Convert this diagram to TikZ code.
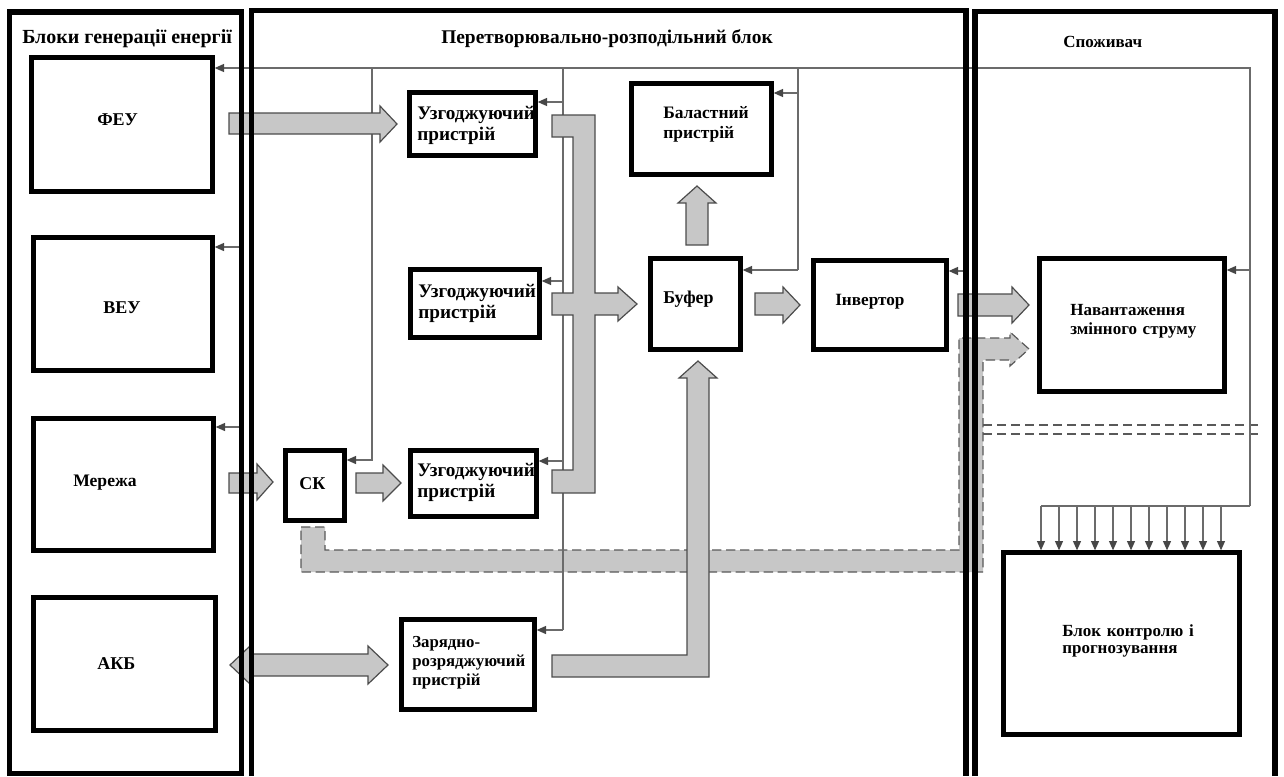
\documentclass[tikz,border=0pt]{standalone}
\usepackage{fontspec}
\setmainfont{Liberation Serif}
\usetikzlibrary{arrows.meta}
\newcommand\setfs[2]{\fontsize{#1}{#2}\selectfont}
\definecolor{wirec}{gray}{0.42}
\definecolor{tipc}{gray}{0.28}
\definecolor{flowfill}{gray}{0.78}
\definecolor{flowline}{gray}{0.3}
\definecolor{dashc}{gray}{0.35}
\begin{document}
\begin{tikzpicture}[x=0.75pt,y=-0.75pt,
  panel/.style={draw=black,line width=3.8pt},
  bx/.style 2 args={line width=4pt,inner sep=0pt,
    minimum width=#1*0.75pt,minimum height=#2*0.75pt},
  wire/.style={draw=wirec,line width=0.9pt},
  sig/.style={wire,-{Triangle[length=7pt,width=6pt,color=tipc]}},
  flow/.style={fill=flowfill,draw=flowline,line width=0.9pt,line join=miter},
  dflow/.style={fill=flowfill,draw=dashc,line width=0.9pt,dash pattern=on 7pt off 3.5pt},
  dline/.style={draw=dashc,line width=0.9pt,dash pattern=on 7pt off 3.5pt},
  lab/.style={inner sep=0pt,anchor=base west,font=\bfseries\setfs{13.5}{15}},
  mlab/.style={lab,align=left,text width=170pt},
]
\useasboundingbox (0,0) rectangle (1284,776);

% ---------- blocks (outlines are drawn later, above the flows) ----------
\node[bx={180}{133}] (feu) at (122,124.5) {};
\node[bx={178}{132}] (veu) at (123,304) {};
\node[bx={179}{131}] (grid) at (123.5,484.5) {};
\node[bx={181}{132}] (akb) at (124.5,664) {};
\node[bx={125}{62}] (uz1) at (472.5,124) {};
\node[bx={128}{67}] (uz2) at (475,303.5) {};
\node[bx={125}{65}] (uz3) at (473.5,483.5) {};
\node[bx={58}{69}] (sk) at (315,485.5) {};
\node[bx={132}{89}] (zr) at (468,664.5) {};
\node[bx={139}{90}] (bal) at (701.5,129) {};
\node[bx={89}{90}] (buf) at (695.5,304) {};
\node[bx={132}{88}] (inv) at (880,305) {};
\node[bx={184}{132}] (load) at (1132,325) {};
\node[bx={235}{181}] (ctl) at (1121.5,643.5) {};

% ---------- dashed bypass flow ----------
\path[dflow] (301,527) -- (325,527) -- (325,550) -- (959,550) -- (959,338)
  -- (1010,338) -- (1010,332) -- (1029,349) -- (1010,366) -- (1010,360)
  -- (983,360) -- (983,572) -- (301,572) -- cycle;
\draw[dline] (983,425) -- (1258,425);
\draw[dline] (983,434) -- (1262,434);

% ---------- control wiring ----------
\coordinate (tR) at (1250,68);
\coordinate (bR) at (1250,506);
\coordinate (bL) at (1041,506);
\coordinate (tA) at (372,68);
\coordinate (tB) at (563,68);
\coordinate (tC) at (798,68);
\coordinate (kA) at (372,460);
\coordinate (kB1) at (563,102);
\coordinate (kB2) at (563,281);
\coordinate (kB3) at (563,461);
\coordinate (kB4) at (563,630);
\coordinate (kC1) at (798,93);
\coordinate (kC2) at (798,270);
\coordinate (kR) at (1250,270);
\coordinate (sV) at (240,247);
\coordinate (sM) at (240,427);
\coordinate (sI) at (965,271);

\draw[sig] (bR) -- (tR) -- (feu.east |- tR);
\draw[wire] (bR) -- (bL);
\draw[sig] (tA) -- (kA) -- (sk.east |- kA);
\draw[wire] (tB) -- (kB4);
\draw[sig] (kB1) -- (uz1.east |- kB1);
\draw[sig] (kB2) -- (uz2.east |- kB2);
\draw[sig] (kB3) -- (uz3.east |- kB3);
\draw[sig] (kB4) -- (zr.east |- kB4);
\draw[wire] (tC) -- (kC2);
\draw[sig] (kC1) -- (bal.east |- kC1);
\draw[sig] (kC2) -- (buf.east |- kC2);
\draw[sig] (kR) -- (load.east |- kR);
\draw[sig] (sV) -- (veu.east |- sV);
\draw[sig] (sM) -- (grid.east |- sM);
\draw[sig] (sI) -- (inv.east |- sI);
\foreach \i in {0,...,10}{
  \coordinate (dn\i) at ({1041+18*\i},506);
  \draw[sig] (dn\i) -- (dn\i |- ctl.north);
}

% ---------- power flows ----------
\path[flow] (229,113) -- (380,113) -- (380,106) -- (397,124) -- (380,142)
  -- (380,134) -- (229,134) -- cycle;
\path[flow] (229,473) -- (257,473) -- (257,464) -- (273,482) -- (257,500)
  -- (257,493) -- (229,493) -- cycle;
\path[flow] (356,473) -- (383,473) -- (383,465) -- (401,483) -- (383,501)
  -- (383,493) -- (356,493) -- cycle;
\path[flow] (230,665) -- (250,646) -- (250,654) -- (368,654) -- (368,646)
  -- (388,665) -- (368,684) -- (368,676) -- (250,676) -- (250,684) -- cycle;
\path[flow] (552,115) -- (595,115) -- (595,293) -- (618,293) -- (618,287)
  -- (637,304) -- (618,321) -- (618,315) -- (595,315) -- (595,493)
  -- (552,493) -- (552,470) -- (573,470) -- (573,315) -- (552,315)
  -- (552,293) -- (573,293) -- (573,137) -- (552,137) -- cycle;
\path[flow] (755,293) -- (783,293) -- (783,287) -- (800,305) -- (783,323)
  -- (783,315) -- (755,315) -- cycle;
\path[flow] (686,245) -- (686,203) -- (678,203) -- (697,186) -- (716,203)
  -- (708,203) -- (708,245) -- cycle;
\path[flow] (552,655) -- (687,655) -- (687,378) -- (679,378) -- (698,361)
  -- (717,378) -- (709,378) -- (709,677) -- (552,677) -- cycle;
\path[flow] (958,294) -- (1012,294) -- (1012,287) -- (1029,305) -- (1012,323)
  -- (1012,316) -- (958,316) -- cycle;

% ---------- panels ----------
\draw[panel] (9.5,12) rectangle (241.5,773.5);
\draw[panel] (251.5,776) -- (251.5,10.5) -- (966,10.5) -- (966,776);
\draw[panel] (975,776) -- (975,11.5) -- (1275,11.5) -- (1275,776);

% ---------- block outlines ----------
\foreach \n in {feu,veu,grid,akb,uz1,uz2,uz3,sk,zr,bal,buf,inv,load,ctl}
  \draw[line width=4pt] ([shift={(2,-2)}]\n.south west) rectangle ([shift={(-2,2)}]\n.north east);

% ---------- labels ----------
\node[lab,font=\bfseries\setfs{15}{16}] (t-gen) at (22,43) {Блоки генерації енергії};
\node[lab,font=\bfseries\setfs{14.55}{16}] (t-conv) at (441,43) {Перетворювально-розподільний блок};
\node[lab,font=\bfseries\setfs{12.75}{14}] (t-cons) at (1063,47) {Споживач};

\node[lab] (feu-l) at (97,125) {ФЕУ};
\node[lab] (veu-l) at (103,313) {ВЕУ};
\node[lab,font=\bfseries\setfs{13.2}{15}] (grid-l) at (73,486) {Мережа};
\node[lab] (akb-l) at (97,669) {АКБ};
\node[lab] (sk-l) at (299,489) {СК};
\node[lab] (buf-l) at (663,303) {Буфер};
\node[lab,font=\bfseries\setfs{12.9}{14}] (inv-l) at (835,305) {Інвертор};

\node[mlab,font=\bfseries\setfs{14.4}{15.75}] (uz1-l) at (417,119) {Узгоджуючий\\пристрій};
\node[mlab,font=\bfseries\setfs{14.4}{15.75}] (uz2-l) at (418,297) {Узгоджуючий\\пристрій};
\node[mlab,font=\bfseries\setfs{14.4}{15.75}] (uz3-l) at (417,476) {Узгоджуючий\\пристрій};
\node[mlab,font=\bfseries\setfs{12.6}{14.25}] (zr-l) at (412,647) {Зарядно-\\розряджуючий\\пристрій};
\node[mlab,font=\bfseries\setfs{13.1}{15}] (bal-l) at (663,118) {Баластний\\пристрій};
\node[mlab,font=\bfseries\setfs{12.75}{14.25}] (load-l) at (1070,315) {Навантаження\\змінного струму};
\node[mlab,font=\bfseries\setfs{12.75}{13.1}] (ctl-l) at (1062,636) {Блок контролю і\\прогнозування};
\end{tikzpicture}
\end{document}
